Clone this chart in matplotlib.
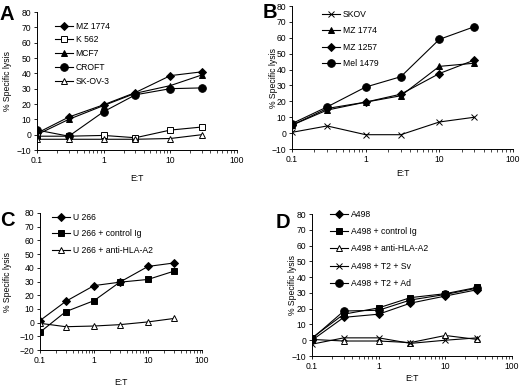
import matplotlib
matplotlib.use("Agg")
import matplotlib.pyplot as plt
from matplotlib.ticker import FixedLocator, FixedFormatter, LogLocator, NullFormatter

plt.rcParams['font.family'] = ['Liberation Sans', 'DejaVu Sans']

et = [0.1, 0.3, 1, 3, 10, 30]

# panel A
a_names = ["MZ 1774", "K 562", "MCF7", "CROFT", "SK-OV-3"]
a_mz1774 = [1, 11.5, 19.5, 27.5, 38.5, 41]
a_k562 = [-1, -1, -0.5, -2, 3, 5]
a_mcf7 = [0, 10, 19, 27, 32, 39]
a_croft = [3, -1, 15, 26, 30, 30.5]
a_skov3 = [-3, -3, -3, -3, -2.5, 0]

# panel B
b_names = ["SKOV", "MZ 1774", "MZ 1257", "Mel 1479"]
b_skov = [0.5, 4.5, -1, -1, 7, 10]
b_mz1774 = [5, 14.5, 19.5, 23.5, 42, 44]
b_mz1257 = [5, 15.5, 19.5, 24.5, 37.5, 46]
b_mel1479 = [6, 16.5, 29, 35.5, 59, 67]

# panel C
c_names = ["U 266", "U 266 + control Ig", "U 266 + anti-HLA-A2"]
c_u266 = [1.5, 15.5, 27, 29.5, 41, 43.5]
c_ctrl = [-7, 8, 16, 29.5, 31.5, 37.5]
c_hla = [-0.5, -3, -2.5, -1.5, 0.5, 3]

# panel D
d_names = ["A498", "A498 + control Ig", "A498 + anti-HLA-A2", "A498 + T2 + Sv", "A498 + T2 + Ad"]
d_a498 = [0, 14.5, 16.5, 23.5, 28, 32]
d_ctrl = [1.5, 16.5, 20.5, 27, 29.5, 33.5]
d_hla = [0.5, -0.5, -0.5, -1.5, 3, 0.5]
d_sv = [-2.5, 1.5, 1.5, -2, 0, 1.5]
d_ad = [1, 18.5, 19, 25.5, 29, 33]

styles = {
    "diamond": dict(marker="D", mfc="black", ms=3.6),
    "square_open": dict(marker="s", mfc="white", ms=5),
    "square": dict(marker="s", mfc="black", ms=5),
    "tri": dict(marker="^", mfc="black", ms=5),
    "tri_open": dict(marker="^", mfc="white", ms=5),
    "circle": dict(marker="o", mfc="black", ms=5.5),
    "x": dict(marker="x", mfc="none", ms=5),
}

FS = 6.2
fig = plt.figure(figsize=(5.2, 3.86), dpi=100)


def panel(rect, letter, letter_px, series, ymin, leg_anchor, leg_space, ylab_x, xlab_y):
    ax = fig.add_axes(rect)
    for name, vals, st in series:
        kw = styles[st]
        ax.plot(et, vals, color="black", lw=0.8, marker=kw["marker"],
                mfc=kw["mfc"], mec="black", mew=0.7, ms=kw["ms"], label=name)
    ax.set_xscale("log")
    ax.set_xlim(0.1, 100)
    ax.set_ylim(ymin, 80)
    ax.set_yticks(range(ymin, 81, 10))
    ax.xaxis.set_major_locator(FixedLocator([0.1, 1, 10, 100]))
    ax.xaxis.set_major_formatter(FixedFormatter(["0.1", "1", "10", "100"]))
    ax.xaxis.set_minor_locator(LogLocator(base=10, subs=range(2, 10)))
    ax.xaxis.set_minor_formatter(NullFormatter())
    for s in ["top", "right"]:
        ax.spines[s].set_visible(False)
    for s in ["left", "bottom"]:
        ax.spines[s].set_linewidth(0.7)
    ax.tick_params(which="major", length=2.5, width=0.6, labelsize=FS, pad=1.5,
                   direction="out")
    ax.tick_params(which="minor", length=1.8, width=0.5, direction="out")
    ax.set_xlabel("E:T", fontsize=FS)
    ax.xaxis.set_label_coords(0.5, xlab_y)
    ax.set_ylabel("% Specific lysis", fontsize=FS)
    ax.yaxis.set_label_coords(ylab_x, 0.5)
    ax.legend(loc="upper left", bbox_to_anchor=leg_anchor, frameon=False,
              fontsize=FS, handlelength=2.1, handletextpad=0.3,
              labelspacing=leg_space, borderpad=0, borderaxespad=0)
    fig.text(letter_px[0] / 520, 1 - letter_px[1] / 386, letter, fontsize=14.5,
             fontweight="bold", va="baseline", ha="left")
    return ax


panel([37 / 520, 1 - 150 / 386, 200 / 520, 138 / 386], "A", (0, 20),
      [(a_names[0], a_mz1774, "diamond"), (a_names[1], a_k562, "square_open"),
       (a_names[2], a_mcf7, "tri"), (a_names[3], a_croft, "circle"),
       (a_names[4], a_skov3, "tri_open")], -10, (0.09, 0.93), 0.55, -0.125, -0.174)

panel([292 / 520, 1 - 149 / 386, 221 / 520, 143 / 386], "B", (263, 18),
      [(b_names[0], b_skov, "x"), (b_names[1], b_mz1774, "tri"),
       (b_names[2], b_mz1257, "diamond"), (b_names[3], b_mel1479, "circle")],
      -10, (0.136, 0.972), 0.85, -0.063, -0.14)

panel([40 / 520, 1 - 350 / 386, 162 / 520, 137 / 386], "C", (0, 226),
      [(c_names[0], c_u266, "diamond"), (c_names[1], c_ctrl, "square"),
       (c_names[2], c_hla, "tri_open")], -20, (0.074, 1.0), 0.85, -0.173, -0.204)

panel([312 / 520, 1 - 356 / 386, 200 / 520, 142 / 386], "D", (276, 228),
      [(d_names[0], d_a498, "diamond"), (d_names[1], d_ctrl, "square"),
       (d_names[2], d_hla, "tri_open"), (d_names[3], d_sv, "x"),
       (d_names[4], d_ad, "circle")], -10, (0.09, 1.028), 0.95, -0.075, -0.127)

fig.savefig("out.png", dpi=100)
